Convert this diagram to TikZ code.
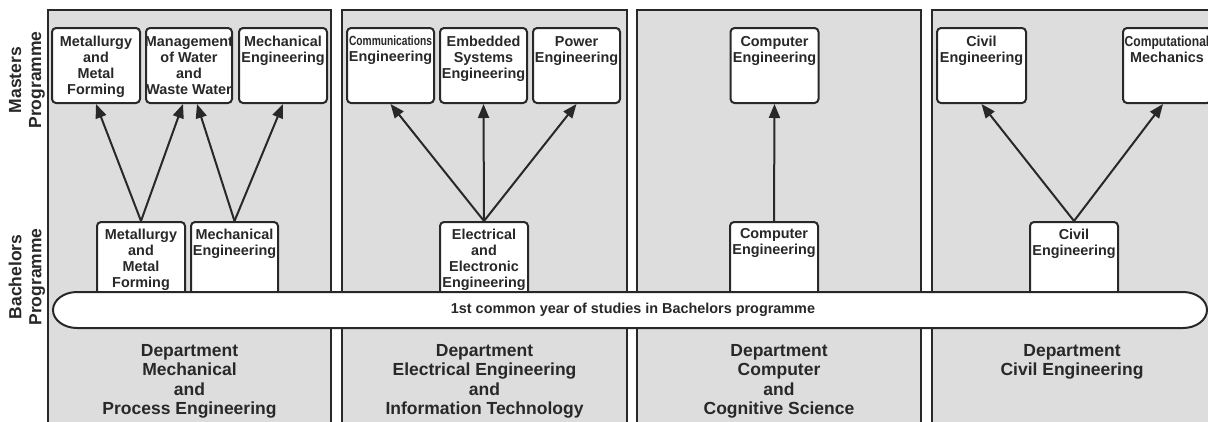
\documentclass[tikz,border=0pt]{standalone}
\usepackage{fontspec}
\usepackage{graphicx}
\setmainfont{Liberation Sans}
\usetikzlibrary{arrows.meta}
\definecolor{panelgray}{RGB}{221,221,221}
\definecolor{ink}{RGB}{40,40,40}
\tikzset{
  panel/.style={draw=ink, fill=panelgray, line width=2pt},
  mbox/.style={draw=ink, fill=white, rounded corners=4pt, line width=2pt,
    minimum width=87pt, minimum height=75pt, inner sep=0pt},
  bbox/.style={draw=ink, fill=white, rounded corners=4pt, line width=2pt,
    minimum width=87pt, minimum height=80pt, inner sep=0pt},
  boxtext/.style={anchor=north, align=center, inner sep=0pt, text=ink,
    font=\fontsize{14.4}{16}\selectfont\bfseries},
  depttext/.style={anchor=north, align=center, inner sep=0pt, text=ink,
    font=\fontsize{17.5}{19.5}\selectfont\bfseries},
  sidetext/.style={rotate=90, align=center, inner sep=0pt, text=ink,
    font=\fontsize{17.5}{20}\selectfont\bfseries},
  arr/.style={draw=ink, line width=2pt, -{Triangle[length=14pt,width=11pt]}},
  ovalline/.style={draw=ink, fill=white, line width=2pt}
}
\begin{document}
\begin{tikzpicture}[x=1pt,y=-1pt]
\useasboundingbox (0,0) rectangle (1208,421);
\clip (0,0) rectangle (1208,421);

% department panels
\path[panel] (48,10) rectangle (331,432);
\path[panel] (342,10) rectangle (627,432);
\path[panel] (637,10) rectangle (921,432);
\path[panel] (932,10) rectangle (1213,432);

% side labels
\node[sidetext] (mlabel) at (27,80) {Masters\\Programme};
\node[sidetext] (blabel) at (27,277) {Bachelors\\Programme};

% masters boxes
\node[mbox, minimum width=88pt] (m11) at (96,65.5) {};
\node[mbox, minimum width=86pt] (m12) at (189,65.5) {};
\node[mbox, minimum width=88pt] (m13) at (283,65.5) {};
\node[mbox] (m21) at (390.5,65.5) {};
\node[mbox] (m22) at (483.5,65.5) {};
\node[mbox] (m23) at (576.5,65.5) {};
\node[mbox, minimum width=88pt] (m31) at (774.5,65.5) {};
\node[mbox, minimum width=89pt] (m41) at (981.5,65.5) {};
\node[mbox, minimum width=88pt] (m42) at (1167,65.5) {};

\node[boxtext] (t11) at (96,36) {Metallurgy\\and\\Metal\\Forming};
\node[boxtext] (t12) at (189,36) {Management\\of Water\\and\\Waste Water};
\node[boxtext] (t13) at (283,36) {Mechanical\\Engineering};
\node[boxtext] (t21) at (390.5,36) {\scalebox{0.71}[0.92]{Communications}\\Engineering};
\node[boxtext] (t22) at (483.5,36) {Embedded\\Systems\\Engineering};
\node[boxtext] (t23) at (576.5,36) {Power\\Engineering};
\node[boxtext] (t31) at (774.5,36) {Computer\\Engineering};
\node[boxtext] (t41) at (981.5,36) {Civil\\Engineering};
\node[boxtext] (t42) at (1167,36) {\scalebox{0.84}[1]{Computational}\\Mechanics};

% bachelors boxes
\node[bbox, minimum width=88pt] (b11) at (141,262) {};
\node[bbox] (b12) at (234.5,262) {};
\node[bbox, minimum width=88pt] (b21) at (484,262) {};
\node[bbox, minimum width=88pt] (b31) at (774,262) {};
\node[bbox, minimum width=88pt] (b41) at (1074,262) {};

\node[boxtext] (s11) at (141,228.5) {Metallurgy\\and\\Metal\\Forming};
\node[boxtext] (s12) at (234.5,228.5) {Mechanical\\Engineering};
\node[boxtext] (s21) at (484,228.5) {Electrical\\and\\Electronic\\Engineering};
\node[boxtext] (s31) at (774,228.5) {Computer\\Engineering};
\node[boxtext] (s41) at (1074,228.5) {Civil\\Engineering};

% common first year
\path[ovalline] (77,292) -- (1183,292)
  .. controls (1196.25,292) and (1207,300.1) .. (1207,310)
  .. controls (1207,319.9) and (1196.25,328) .. (1183,328)
  -- (77,328)
  .. controls (63.75,328) and (53,319.9) .. (53,310)
  .. controls (53,300.1) and (63.75,292) .. (77,292) -- cycle;
\node[inner sep=0pt, text=ink, font=\fontsize{14.4}{16}\selectfont\bfseries]
  (common) at (633,310) {1st common year of studies in Bachelors programme};

% arrows
\draw[arr] (b11.north) -- (m11.south);
\draw[arr] (b11.north) -- ([xshift=-6pt]m12.south);
\draw[arr] (b12.north) -- ([xshift=8pt]m12.south);
\draw[arr] (b12.north) -- (m13.south);
\draw[arr] (b21.north) -- (m21.south);
\draw[arr] (b21.north) -- (m22.south);
\draw[arr] (b21.north) -- (m23.south);
\draw[arr] (b31.north) -- (m31.south);
\draw[arr] (b41.north) -- (m41.south);
\draw[arr] (b41.north) -- ([xshift=-4pt]m42.south);

% department labels
\node[depttext] (d1) at (189.5,344) {Department\\Mechanical\\and\\Process Engineering};
\node[depttext] (d2) at (484.5,344) {Department\\Electrical Engineering\\and\\Information Technology};
\node[depttext] (d3) at (779,344) {Department\\Computer\\and\\Cognitive Science};
\node[depttext] (d4) at (1072,344) {Department\\Civil Engineering};
\end{tikzpicture}
\end{document}
